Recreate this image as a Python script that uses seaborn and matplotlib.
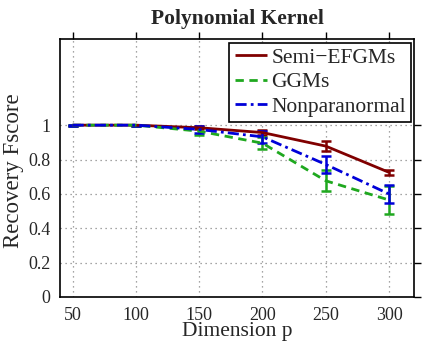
import matplotlib
matplotlib.use("Agg")
import matplotlib.pyplot as plt
import seaborn as sns
import pandas as pd
import numpy as np

dims = [50, 100, 150, 200, 250, 300]
semi = [1.0, 1.0, 0.985, 0.957, 0.878, 0.725]
semi_err = [0.003, 0.003, 0.01, 0.015, 0.028, 0.015]
ggm = [1.0, 1.0, 0.965, 0.895, 0.676, 0.564]
ggm_err = [0.003, 0.003, 0.024, 0.036, 0.061, 0.08]
npn = [1.0, 1.0, 0.975, 0.932, 0.771, 0.599]
npn_err = [0.003, 0.003, 0.022, 0.036, 0.05, 0.053]
names = ["Semi\u2212EFGMs", "GGMs", "Nonparanormal"]
yticks = [0, 0.2, 0.4, 0.6, 0.8, 1]
ytick_labels = ["0", "0.2", "0.4", "0.6", "0.8", "1"]

sns.set_theme(style="white")
plt.rcParams['font.family'] = ['Liberation Serif', 'DejaVu Serif']

colors = ["#800000", "#1fa81f", "#0000d8"]

df = pd.DataFrame({
    "dim": dims * 3,
    "score": semi + ggm + npn,
    "err": semi_err + ggm_err + npn_err,
    "method": sum([[n] * len(dims) for n in names], []),
})

fig = plt.figure(figsize=(4.25, 3.48), dpi=100)
ax = fig.add_axes([0.141, 0.147, 0.834, 0.740])

for name, c in zip(names, colors):
    sub = df[df["method"] == name]
    ax.errorbar(sub["dim"], sub["score"], yerr=sub["err"], fmt="none",
                ecolor=c, elinewidth=1.8, capsize=3.5, capthick=1.8, zorder=3)

sns.lineplot(data=df, x="dim", y="score", hue="method", style="method",
             palette=dict(zip(names, colors)),
             dashes=dict(zip(names, [(1, 0), (3, 2), (4, 1.5, 1, 1.5)])),
             linewidth=2, ax=ax, legend=True, zorder=4)

ax.set_xlim(40, 320)
ax.set_ylim(0, 1.5)
ax.set_xticks(dims)
ax.set_yticks(yticks)
ax.set_yticklabels(ytick_labels)
ax.tick_params(axis="both", which="both", direction="out", length=5, width=1,
               color="black", labelsize=13, top=True, right=True,
               labeltop=False, labelright=False, pad=2)
ax.grid(True, linestyle=(0, (1, 3)), color="#888888", linewidth=0.9)
for s in ax.spines.values():
    s.set_color("black")
    s.set_linewidth(1.2)

ax.set_xlabel("Dimension p", fontsize=15.5, labelpad=-1)
ax.set_ylabel("Recovery Fscore", fontsize=16.5, labelpad=2)
ax.yaxis.set_label_coords(-0.10, 0.49)
ax.set_title("Polynomial Kernel", fontsize=15.5, fontweight="bold", pad=11)

leg = ax.legend(loc="upper right", fontsize=15.5, frameon=True, fancybox=False,
                edgecolor="black", handlelength=1.5, handletextpad=0.2,
                borderpad=0.25, labelspacing=0.2, borderaxespad=0.15)
leg.get_frame().set_linewidth(1.2)
leg.get_frame().set_alpha(1)
for line in leg.get_lines():
    line.set_linewidth(2)

fig.savefig("out.png", dpi=100)
